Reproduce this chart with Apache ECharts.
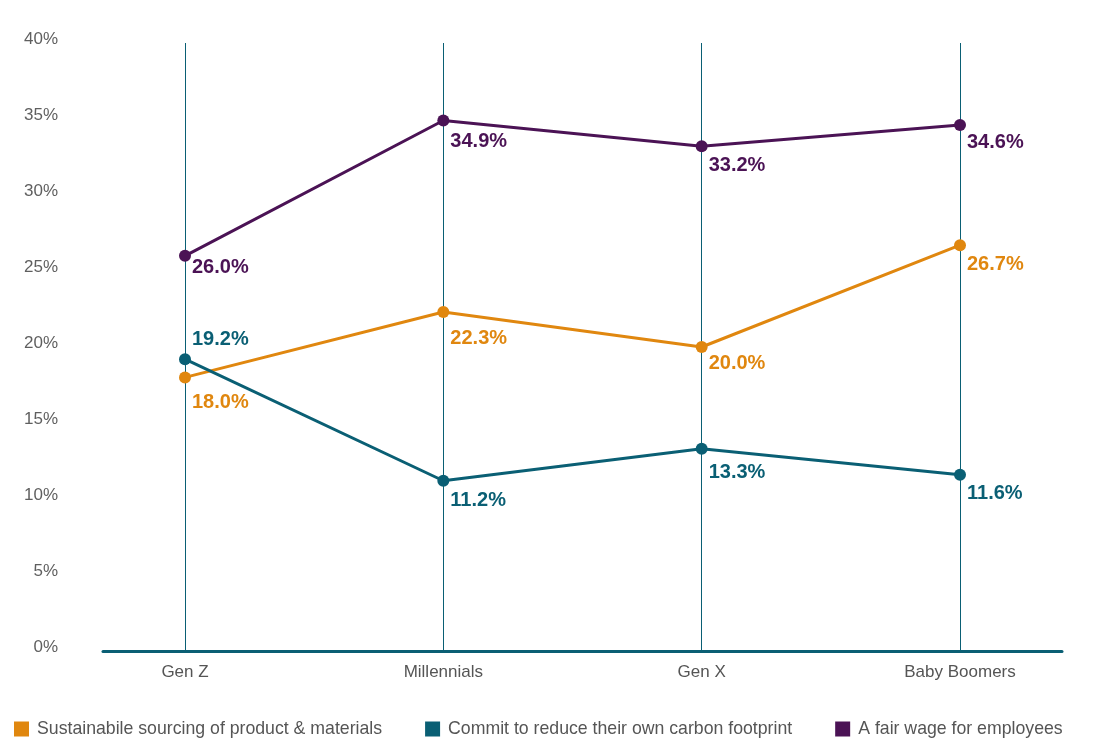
<!DOCTYPE html>
<html>
<head>
<meta charset="utf-8">
<script src="https://cdn.jsdelivr.net/npm/echarts@6/dist/echarts.min.js"></script>
<style>
html,body{margin:0;padding:0;background:#fff;}
#chart{width:1096px;height:752px;}
</style>
</head>
<body>
<div id="chart"></div>
<script>
const categories = ['Gen Z', 'Millennials', 'Gen X', 'Baby Boomers'];
const seriesNames = [
  'Sustainabile sourcing of product & materials',
  'Commit to reduce their own carbon footprint',
  'A fair wage for employees'
];
const sourcing = [18.0, 22.3, 20.0, 26.7];
const carbon = [19.2, 11.2, 13.3, 11.6];
const fairWage = [26.0, 34.9, 33.2, 34.6];
const yTicks = [0, 5, 10, 15, 20, 25, 30, 35, 40];

const ORANGE = '#e0870f';
const TEAL = '#0a5f74';
const PURPLE = '#4b1355';
const FONT = '"Liberation Sans", Arial, Helvetica, sans-serif';

// per-point label vertical offsets (layout only)
const offs = {
  0: [25, 26, 16, 19],
  1: [-20, 20, 24, 19],
  2: [12, 21, 19, 17]
};

function mkSeries(idx, name, values, color) {
  return {
    name: name,
    type: 'line',
    xAxisIndex: 0,
    yAxisIndex: 0,
    data: values.map((v, i) => ({
      value: v,
      label: { offset: [0, offs[idx][i]] }
    })),
    symbol: 'circle',
    symbolSize: 12,
    lineStyle: { color: color, width: 3 },
    itemStyle: { color: color },
    label: {
      show: true,
      position: 'right',
      distance: 1,
      formatter: p => p.value.toFixed(1) + '%',
      color: color,
      fontFamily: FONT,
      fontWeight: 'bold',
      fontSize: 20
    },
    emphasis: { disabled: true },
    z: 3
  };
}

const chart = echarts.init(document.getElementById('chart'), null, { renderer: 'canvas' });
chart.setOption({
  animation: false,
  backgroundColor: '#ffffff',
  color: [ORANGE, TEAL, PURPLE],
  grid: [
    { left: 185, right: 136, top: 43, bottom: 101, containLabel: false },
    { left: 103, right: 34, top: 43, bottom: 101, containLabel: false }
  ],
  legend: {
    data: seriesNames,
    left: 9,
    top: 715,
    icon: 'rect',
    itemWidth: 15,
    itemHeight: 15,
    itemGap: 43,
    textStyle: { fontFamily: FONT, fontSize: 17.7, color: '#555555', padding: [0, 0, 0, 3] }
  },
  xAxis: [
    {
      gridIndex: 0,
      type: 'category',
      data: categories,
      boundaryGap: false,
      axisLine: { show: false },
      axisTick: { show: false },
      axisLabel: { fontFamily: FONT, fontSize: 17, color: '#555555', margin: 13 },
      splitLine: { show: true, lineStyle: { color: TEAL, width: 1 } }
    },
    {
      gridIndex: 1,
      type: 'value',
      min: 0,
      max: 1,
      axisLine: { show: true, lineStyle: { color: TEAL, width: 3 } },
      axisTick: { show: false },
      axisLabel: { show: false },
      splitLine: { show: false }
    }
  ],
  yAxis: [
    {
      gridIndex: 0,
      type: 'value',
      min: 0,
      max: 40,
      interval: 5,
      axisLine: { show: false },
      axisTick: { show: false },
      splitLine: { show: false },
      axisLabel: {
        margin: 127,
        fontFamily: FONT,
        fontSize: 17,
        color: '#5f5f5f',
        verticalAlign: 'bottom',
        lineHeight: 8,
        formatter: v => (yTicks.includes(v) ? v + '%' : '')
      }
    },
    {
      gridIndex: 1,
      type: 'value',
      min: 0,
      max: 40,
      show: false
    }
  ],
  series: [
    mkSeries(0, seriesNames[0], sourcing, ORANGE),
    mkSeries(1, seriesNames[1], carbon, TEAL),
    mkSeries(2, seriesNames[2], fairWage, PURPLE)
  ]
});
</script>
</body>
</html>
